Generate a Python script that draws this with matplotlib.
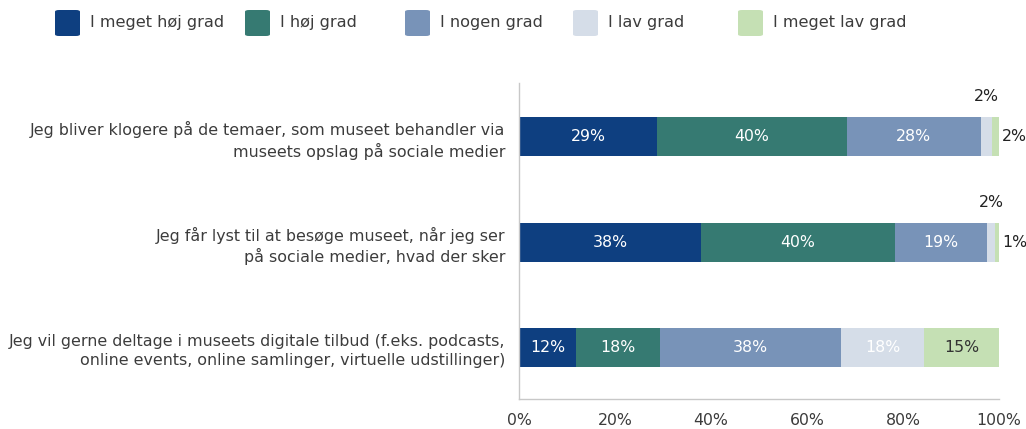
import matplotlib.pyplot as plt
from matplotlib.patches import FancyBboxPatch

# Data
udsagn = [
    'Jeg bliver klogere på de temaer, som museet behandler via\nmuseets opslag på sociale medier',
    'Jeg får lyst til at besøge museet, når jeg ser\npå sociale medier, hvad der sker',
    'Jeg vil gerne deltage i museets digitale tilbud (f.eks. podcasts,\nonline events, online samlinger, virtuelle udstillinger)',
]
kategorier = ['I meget høj grad', 'I høj grad', 'I nogen grad', 'I lav grad', 'I meget lav grad']
meget_hoej = [28.7, 37.9, 11.9]
hoej = [39.6, 40.4, 17.5]
nogen = [27.9, 19.2, 37.7]
lav = [2.3, 1.7, 17.3]
meget_lav = [1.5, 0.8, 15.6]
etiketter = [
    ['29%', '40%', '28%', '2%', '2%'],
    ['38%', '40%', '19%', '2%', '1%'],
    ['12%', '18%', '38%', '18%', '15%'],
]

farver = ['#0e3f80', '#367a72', '#7893b8', '#d5dde8', '#c5e0b4']
tekstfarver = ['white', 'white', 'white', 'white', '#333333']
tekst = '#3c3c3c'

plt.rcParams['font.family'] = ['DejaVu Sans']

fig = plt.figure(figsize=(10.26, 4.29), dpi=100)
ax = fig.add_axes([519 / 1026, 1 - 399 / 429, 480 / 1026, 316 / 429])

serier = [meget_hoej, hoej, nogen, lav, meget_lav]
ypos = [2, 1, 0]
venstre = [0.0, 0.0, 0.0]
for k, vals in enumerate(serier):
    ax.barh(ypos, vals, left=venstre, height=0.37, color=farver[k], edgecolor='none')
    for i in range(3):
        midt = venstre[i] + vals[i] / 2
        if vals[i] > 5:
            ax.text(midt, ypos[i], etiketter[i][k], ha='center', va='center',
                    color=tekstfarver[k], fontsize=11.3)
        elif k == 3:
            # lille segment: etiket over baren
            ax.text(midt, ypos[i] + 0.38, etiketter[i][k], ha='center', va='center',
                    color='#222222', fontsize=11.3)
        else:
            ax.text(100.6, ypos[i], etiketter[i][k], ha='left', va='center',
                    color='#222222', fontsize=11.3)
    venstre = [venstre[i] + vals[i] for i in range(3)]

ax.set_xlim(0, 100)
ax.set_ylim(-0.49, 2.51)
ax.set_yticks(ypos)
ax.set_yticklabels(udsagn, fontsize=11.4, color=tekst, ha='right', linespacing=1.35)
ax.set_xticks([0, 20, 40, 60, 80, 100])
ax.set_xticklabels(['0%', '20%', '40%', '60%', '80%', '100%'], fontsize=11.3, color=tekst)
ax.tick_params(axis='x', length=0, pad=10)
ax.tick_params(axis='y', length=0, pad=10)
for s in ['top', 'right']:
    ax.spines[s].set_visible(False)
for s in ['left', 'bottom']:
    ax.spines[s].set_color('#c8c8c8')
    ax.spines[s].set_linewidth(1)

# Legend drawn manually at the top
leg_x = [55, 245, 405, 573, 738]
for k, navn in enumerate(kategorier):
    x0 = leg_x[k] / 1026
    box = FancyBboxPatch((x0, 1 - 36 / 429), 25 / 1026, 26 / 429,
                         boxstyle='round,pad=0,rounding_size=0.004',
                         transform=fig.transFigure, facecolor=farver[k], edgecolor='none')
    fig.patches.append(box)
    fig.text(x0 + 35 / 1026, 1 - 23 / 429, navn, ha='left', va='center',
             fontsize=11.6, color=tekst)

fig.savefig('out.png', dpi=100)
